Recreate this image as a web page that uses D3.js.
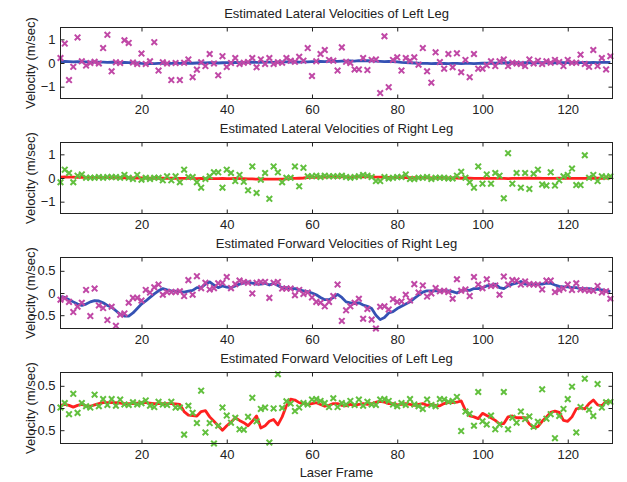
<!DOCTYPE html>
<html>
<head>
<meta charset="utf-8">
<script src="https://cdn.jsdelivr.net/npm/d3@7"></script>
<style>
  body { margin: 0; background: #fff; }
  svg text { font-family: Arial, "Liberation Sans", sans-serif; fill: #222; }
</style>
</head>
<body>
<script>
// Frames are 1..130 for every series
var xTicks = [20, 40, 60, 80, 100, 120];
var yTicksLat = [-1, 0, 1];
var yTicksFwd = [-0.5, 0, 0.5];

var titles = [
  "Estimated Lateral Velocities of Left Leg",
  "Estimated Lateral Velocities of Right Leg",
  "Estimated Forward Velocities of Right Leg",
  "Estimated Forward Velocities of Left Leg"
];

// measured (crosses) and estimated (lines) velocities
var latLeftMeas = [0.21,0.82,-0.72,-0.16,1.08,0.07,-0.11,0.0,0.05,-0.02,
  0.63,1.19,-0.35,0.03,0.0,0.96,0.85,0.02,-0.04,0.4,
  -0.04,0.07,0.88,-0.32,0.03,-0.02,-0.72,0.0,-0.72,0.01,
  0.15,-0.6,-0.28,0.03,-0.13,0.38,-0.02,-0.52,0.29,-0.17,
  0.0,0.21,-0.04,0.01,0.04,0.21,-0.18,0.15,-0.04,0.21,
  -0.04,0.03,0.01,0.21,0.1,0.05,0.26,0.1,0.63,-0.55,
  0.07,0.38,0.55,0.13,0.1,-0.32,0.66,0.05,0.0,-0.27,
  -0.27,0.21,-0.3,0.13,0.15,-1.27,1.13,-1.02,0.13,0.24,
  -0.32,0.21,0.1,0.24,-0.07,0.63,-0.35,-0.83,0.45,0.04,
  -0.24,0.38,-0.18,0.41,-0.39,0.13,-0.6,0.38,-0.24,-0.24,
  -0.1,0.07,-0.13,0.07,0.15,-0.13,0.01,-0.02,-0.04,-0.13,
  0.15,-0.02,0.1,-0.04,0.07,0.01,0.13,0.04,-0.13,0.13,
  0.01,0.01,0.35,-0.04,-0.16,0.55,-0.13,0.21,-0.27,0.29];

var latLeftEst = [0.06,0.07,0.06,0.05,0.06,0.05,0.05,0.04,0.05,0.04,
  0.04,0.03,0.04,0.03,0.02,0.03,0.02,0.01,0.0,-0.02,
  -0.03,-0.02,-0.03,-0.02,-0.02,-0.03,-0.02,-0.01,-0.02,-0.01,
  0.0,-0.01,0.0,0.01,0.0,0.01,0.01,0.0,0.01,0.02,
  0.02,0.03,0.02,0.03,0.03,0.04,0.03,0.03,0.04,0.04,
  0.03,0.04,0.05,0.05,0.04,0.05,0.04,0.05,0.05,0.06,
  0.06,0.07,0.06,0.07,0.08,0.07,0.08,0.08,0.09,0.08,
  0.1,0.09,0.1,0.09,0.08,0.07,0.06,0.07,0.06,0.05,
  0.03,0.02,0.01,0.0,-0.01,-0.02,-0.02,-0.03,-0.02,-0.03,
  -0.02,-0.03,-0.02,-0.02,-0.03,-0.02,-0.02,-0.03,-0.02,-0.01,
  -0.01,0.0,-0.01,0.0,0.0,0.01,0.0,0.01,0.0,0.01,
  0.01,0.0,0.01,0.01,0.02,0.01,0.02,0.01,0.02,0.02,
  0.01,0.02,0.02,0.03,0.02,0.03,0.02,0.03,0.03,0.03];

var latRightMeas = [-0.18,0.35,0.21,-0.18,0.1,0.15,0.01,0.01,0.01,0.04,
  0.01,0.04,0.04,0.04,0.01,0.13,0.01,-0.04,0.13,-0.07,
  0.01,-0.04,0.01,0.01,-0.1,0.07,-0.1,0.07,-0.18,0.35,
  0.04,0.04,-0.18,-0.41,-0.04,0.07,0.24,0.24,-0.41,0.35,
  0.21,-0.13,0.13,-0.16,-0.52,0.49,-0.63,-0.07,0.21,-0.88,
  0.49,0.24,-0.18,0.01,0.01,0.49,-0.35,0.43,0.07,0.07,
  0.1,0.04,0.1,0.07,0.07,0.07,0.1,0.04,0.01,0.04,
  0.07,0.13,0.1,0.04,-0.13,-0.13,0.04,-0.02,0.01,0.04,
  0.04,0.15,-0.04,-0.04,0.01,0.01,0.04,-0.04,0.01,0.01,
  0.01,-0.02,-0.02,0.1,0.26,0.01,-0.18,-0.41,0.49,-0.24,
  0.15,-0.24,0.21,0.1,-0.86,1.05,-0.24,0.21,-0.41,0.21,
  -0.46,0.18,0.35,-0.27,-0.32,0.24,-0.32,-0.1,0.07,0.13,
  0.4,-0.3,-0.3,0.96,0.01,0.13,-0.13,0.07,0.04,0.07];

var latRightEst = [0.04,0.05,0.04,0.04,0.03,0.04,0.03,0.03,0.02,0.02,
  0.02,0.02,0.01,0.01,0.02,0.01,0.01,0.0,0.0,0.0,
  0.0,-0.01,0.0,-0.01,-0.01,-0.02,-0.01,-0.02,-0.02,-0.02,
  -0.02,-0.02,-0.03,-0.02,-0.03,-0.02,-0.03,-0.03,-0.02,-0.03,
  -0.03,-0.02,-0.03,-0.03,-0.04,-0.04,-0.05,-0.04,-0.05,-0.05,
  -0.05,-0.05,-0.05,-0.04,-0.03,-0.02,-0.01,0.0,0.02,0.03,
  0.03,0.04,0.04,0.05,0.05,0.04,0.05,0.05,0.04,0.05,
  0.05,0.05,0.06,0.05,0.04,0.04,0.03,0.03,0.03,0.02,
  0.02,0.02,0.01,0.01,0.01,0.01,0.01,0.0,0.01,0.0,
  0.0,0.0,0.0,0.0,-0.01,-0.01,-0.01,-0.02,-0.02,-0.02,
  -0.02,-0.02,-0.02,-0.02,-0.02,-0.03,-0.02,-0.02,-0.02,-0.01,
  -0.01,-0.02,-0.01,-0.02,-0.02,-0.02,-0.02,-0.01,-0.02,-0.02,
  -0.02,-0.02,-0.02,-0.02,-0.01,-0.01,-0.01,-0.01,0.0,0.0];

var fwdRightMeas = [-0.15,-0.12,-0.2,-0.43,-0.31,-0.22,0.07,-0.52,0.1,-0.28,
  -0.34,-0.61,-0.31,-0.74,-0.49,-0.46,-0.22,-0.11,-0.11,-0.17,
  0.07,0.01,0.13,0.19,-0.04,0.02,0.02,0.02,0.04,-0.07,
  0.29,-0.04,0.38,0.11,0.23,0.08,0.11,0.22,0.23,0.36,
  0.11,0.2,0.28,0.25,0.23,-0.01,0.23,0.25,0.25,-0.11,
  0.23,0.25,0.1,0.1,0.1,-0.05,0.07,-0.02,0.01,-0.1,
  -0.2,-0.22,-0.3,-0.2,-0.07,0.19,-0.63,-0.39,-0.3,-0.22,
  -0.13,-0.58,-0.36,-0.6,-0.8,-0.31,-0.3,-0.37,-0.14,-0.2,
  -0.19,-0.04,-0.17,0.2,0.01,0.17,-0.08,-0.01,0.11,0.04,
  0.05,0.02,-0.13,0.31,0.05,0.08,-0.07,0.36,0.19,0.11,
  0.31,0.16,0.17,-0.04,0.37,0.19,0.29,0.28,0.19,0.26,
  0.2,0.19,0.19,0.08,0.28,0.28,0.02,0.07,0.1,0.19,
  0.07,0.22,0.08,0.07,0.05,0.05,0.16,0.01,0.04,-0.13];

var fwdRightEst = [-0.08,-0.1,-0.15,-0.2,-0.25,-0.28,-0.25,-0.2,-0.17,-0.18,
  -0.22,-0.28,-0.32,-0.4,-0.48,-0.52,-0.52,-0.45,-0.35,-0.25,
  -0.18,-0.1,-0.02,0.05,0.1,0.07,0.05,0.04,0.03,0.02,
  0.04,0.06,0.12,0.12,0.2,0.25,0.18,0.12,0.16,0.13,
  0.12,0.16,0.2,0.22,0.25,0.22,0.2,0.2,0.22,0.18,
  0.22,0.17,0.12,0.12,0.1,0.1,0.07,0.05,0.03,0.0,
  -0.04,-0.1,-0.15,-0.15,-0.1,-0.03,-0.1,-0.2,-0.22,-0.24,
  -0.22,-0.27,-0.3,-0.35,-0.5,-0.6,-0.55,-0.45,-0.42,-0.35,
  -0.3,-0.25,-0.2,-0.12,-0.05,0.02,0.05,0.05,0.05,0.05,
  0.06,0.05,0.03,0.0,0.05,0.07,0.06,0.1,0.1,0.12,
  0.16,0.18,0.2,0.12,0.1,0.16,0.2,0.22,0.26,0.2,
  0.2,0.2,0.2,0.2,0.22,0.22,0.18,0.15,0.14,0.14,
  0.12,0.12,0.1,0.1,0.1,0.08,0.08,0.07,0.05,0.03];

var fwdLeftMeas = [0.01,0.11,-0.14,0.32,-0.11,0.11,0.04,0.01,0.3,0.04,
  0.2,0.07,0.2,0.05,0.19,0.08,0.07,0.13,0.08,0.11,
  0.17,0.05,0.02,0.14,0.08,0.07,0.14,0.01,0.01,-0.6,
  0.05,-0.11,-0.34,0.39,-0.55,-0.34,-0.8,-0.4,0.01,-0.17,
  -0.33,-0.22,-0.48,-0.49,-0.2,0.23,-0.3,-0.02,0.01,-0.78,
  -0.01,0.76,0.0,0.15,0.1,-0.07,0.01,0.11,0.08,0.19,
  0.2,0.16,0.11,0.02,0.22,0.02,0.11,0.08,0.16,0.07,
  0.19,0.05,0.14,0.08,0.07,0.19,0.2,0.16,0.08,0.04,
  0.11,0.07,0.2,0.08,0.04,-0.02,0.19,0.07,0.04,0.2,
  0.19,0.14,0.16,0.25,-0.52,-0.08,-0.13,-0.4,0.36,-0.3,
  -0.37,-0.17,-0.48,-0.37,0.36,-0.48,-0.22,-0.33,-0.08,-0.25,
  -0.19,-0.42,-0.31,0.42,-0.24,-0.14,-0.68,-0.18,-0.02,0.2,
  0.48,-0.55,0.02,0.66,-0.04,-0.18,0.54,0.01,0.13,0.14];

var fwdLeftEst = [0.06,0.08,0.06,0.02,0.06,0.08,0.05,0.04,0.07,0.1,
  0.12,0.12,0.12,0.12,0.11,0.1,0.1,0.1,0.11,0.12,
  0.12,0.11,0.1,0.1,0.1,0.1,0.1,0.09,0.08,-0.08,
  -0.16,-0.17,-0.18,-0.08,-0.06,-0.2,-0.3,-0.4,-0.5,-0.4,
  -0.32,-0.22,-0.28,-0.33,-0.4,-0.3,-0.18,-0.45,-0.4,-0.3,
  -0.26,-0.38,-0.2,0.05,0.2,0.18,0.12,0.1,0.08,0.1,
  0.12,0.08,0.04,0.06,0.1,0.1,0.06,0.05,0.08,0.06,
  0.08,0.1,0.08,0.1,0.13,0.15,0.13,0.1,0.1,0.07,
  0.08,0.1,0.08,0.06,0.08,0.1,0.06,0.08,0.06,0.05,
  0.1,0.12,0.12,0.13,0.16,-0.05,-0.18,-0.2,-0.24,-0.12,
  -0.17,-0.22,-0.28,-0.36,-0.35,-0.2,-0.18,-0.22,-0.22,-0.22,
  -0.36,-0.44,-0.42,-0.3,-0.2,-0.1,-0.07,-0.1,-0.28,-0.3,
  -0.2,-0.02,0.0,-0.02,0.1,0.18,0.07,0.05,0.15,0.14];

var magenta = "#c048a6", green = "#62c03e", blue = "#3552b4", red = "#ff2020";

var svgWidth = 627, svgHeight = 482;
var svg = d3.select("body").append("svg")
  .attr("width", svgWidth)
  .attr("height", svgHeight);

var plotLeft = 60.5, plotRight = 612.5, plotH = 71;
var x = d3.scaleLinear().domain([1, 130.5]).range([plotLeft, plotRight]);

function DrawPanel(top, title, meas, est, yDomain, yTicks, crossColor, lineColor) {
  var y = d3.scaleLinear().domain(yDomain).range([top + plotH, top]);
  var g = svg.append("g");

  // estimate line
  var line = d3.line()
    .x((d, i) => x(i + 1))
    .y(d => y(d));
  g.append("path")
    .datum(est)
    .attr("d", line)
    .attr("fill", "none")
    .attr("stroke", lineColor)
    .attr("stroke-width", 2.8)
    .attr("stroke-linejoin", "round");

  // measurements as crosses
  g.selectAll(".cross")
    .data(meas)
    .enter()
    .append("path")
    .attr("class", "cross")
    .attr("transform", (d, i) => `translate(${x(i + 1)},${y(d)})`)
    .attr("d", "M-2.8,-2.8L2.8,2.8M-2.8,2.8L2.8,-2.8")
    .attr("stroke", crossColor)
    .attr("stroke-width", 2)
    .attr("fill", "none");

  // box
  g.append("rect")
    .attr("x", plotLeft)
    .attr("y", top)
    .attr("width", plotRight - plotLeft)
    .attr("height", plotH)
    .attr("fill", "none")
    .attr("stroke", "#222")
    .attr("stroke-width", 1);

  // axes, ticks pointing inward
  g.append("g")
    .attr("transform", `translate(0,${top + plotH})`)
    .call(d3.axisBottom(x).tickValues(xTicks).tickSize(-4).tickPadding(6));
  g.append("g")
    .attr("transform", `translate(${plotLeft},0)`)
    .call(d3.axisLeft(y).tickValues(yTicks).tickSize(-4).tickPadding(5)
      .tickFormat(d3.format("")));
  g.append("g")
    .attr("transform", `translate(0,${top})`)
    .call(d3.axisTop(x).tickValues(xTicks).tickSize(-4).tickFormat(""));
  g.append("g")
    .attr("transform", `translate(${plotRight},0)`)
    .call(d3.axisRight(y).tickValues(yTicks).tickSize(-4).tickFormat(""));

  g.selectAll(".domain").remove();
  g.selectAll(".tick line").attr("stroke", "#222");
  g.selectAll(".tick text").attr("font-size", "13px").attr("fill", "#222");

  g.append("text")
    .attr("x", (plotLeft + plotRight) / 2)
    .attr("y", top - 10)
    .attr("text-anchor", "middle")
    .attr("font-size", "13px")
    .text(title);

  g.append("text")
    .attr("transform", "rotate(-90)")
    .attr("x", -(top + plotH / 2))
    .attr("y", 35)
    .attr("text-anchor", "middle")
    .attr("font-size", "13px")
    .text("Velocity (m/sec)");
}

DrawPanel(27.5, titles[0], latLeftMeas, latLeftEst, [-1.5, 1.5], yTicksLat, magenta, blue);
DrawPanel(142.5, titles[1], latRightMeas, latRightEst, [-1.5, 1.5], yTicksLat, green, red);
DrawPanel(257.5, titles[2], fwdRightMeas, fwdRightEst, [-0.8, 0.8], yTicksFwd, magenta, blue);
DrawPanel(372.5, titles[3], fwdLeftMeas, fwdLeftEst, [-0.8, 0.8], yTicksFwd, green, red);

svg.append("text")
  .attr("x", (plotLeft + plotRight) / 2)
  .attr("y", 477)
  .attr("text-anchor", "middle")
  .attr("font-size", "13px")
  .text("Laser Frame");
</script>
</body>
</html>
